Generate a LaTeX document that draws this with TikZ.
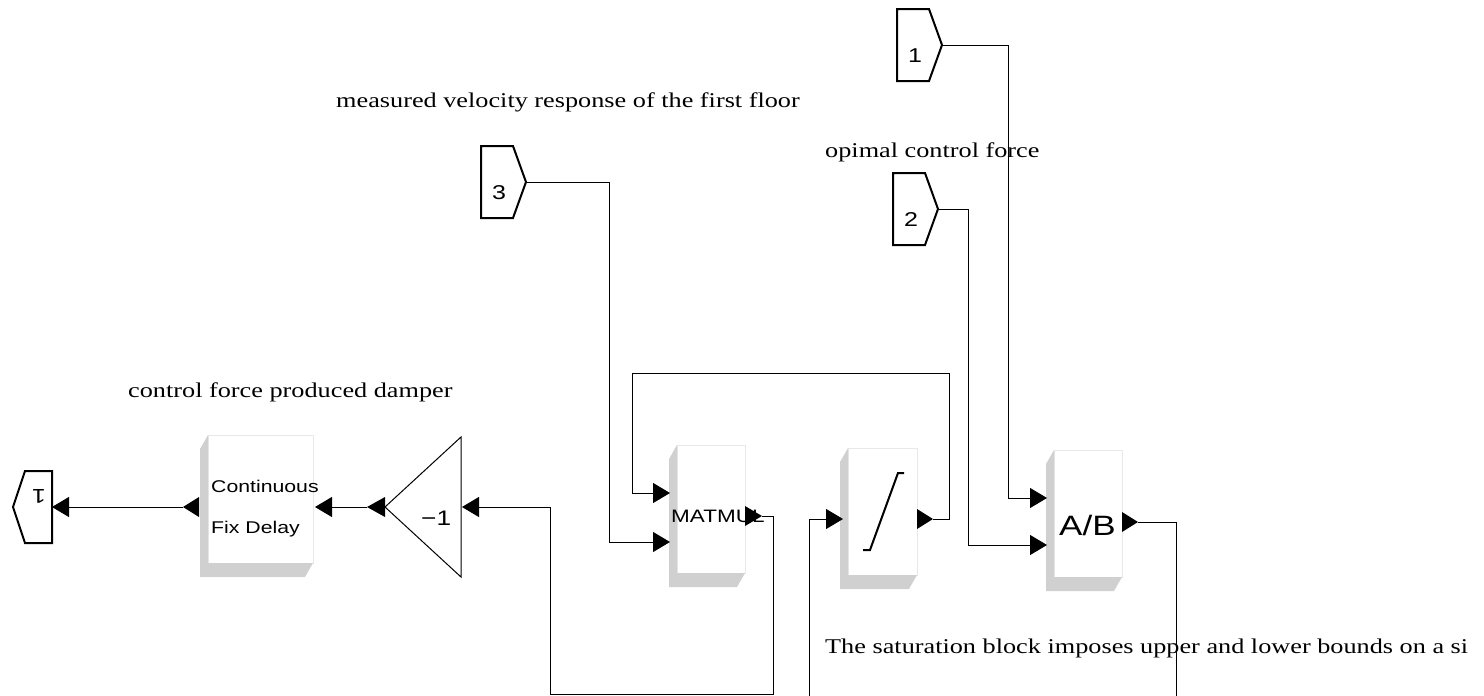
\documentclass[tikz,border=0pt]{standalone}
\usepackage{fontspec}
\setmainfont[FakeStretch=1.25]{Liberation Serif}
\setsansfont[FakeStretch=1.25]{Liberation Sans}
\usetikzlibrary{arrows.meta,calc}
\definecolor{shadowgray}{HTML}{D0D0D0}
\definecolor{rim}{HTML}{E8E8E8}
\tikzset{
  blk/.style={draw=rim,fill=white,line width=0.5pt,inner sep=0pt,outer sep=0pt},
  wire/.style={draw=black,line width=0.9pt,-{Triangle[length=17pt,width=20pt]}},
  portline/.style={draw=black,line width=2pt,line join=miter},
  note/.style={font=\fontsize{21}{25}\selectfont,anchor=base west,inner sep=0pt},
  blktxt/.style={font=\sffamily\fontsize{17}{20}\selectfont,anchor=base west,inner sep=0pt},
  portnum/.style={font=\sffamily\fontsize{20}{24}\selectfont,inner sep=0pt},
}
% gray extrusion left and below a block
\newcommand{\blkshadow}[1]{%
  \fill[shadowgray] (#1.north west) -- ++(-8,14) |- ($(#1.south east)+(-8,14)$) -- (#1.south east) -- (#1.south west) -- cycle;}
% output port: base x, tip x, y
\newcommand{\outtri}[4]{%
  \fill (#2,#4-10) -- (#3,#4) -- (#2,#4+10) -- cycle;
  \coordinate (#1) at (#3,#4);}
% inport: name, left x, mid y, number
\newcommand{\inport}[4]{%
  \draw[portline] (#2,#3-36) -- (#2+32,#3-36) -- (#2+45,#3) -- (#2+32,#3+36) -- (#2,#3+36) -- cycle;
  \node[portnum] (#1-num) at (#2+18,#3+11) {#4};
  \coordinate (#1) at (#2+45,#3);}

\begin{document}
\begin{tikzpicture}[x=1pt,y=-1pt]
  \useasboundingbox (0,0) rectangle (1484,696);
  \clip (0,0) rectangle (1484,696);

  % notes
  \node[note] (lbl-vel) at (336,107) {measured velocity response of the first floor};
  \node[note] (lbl-damp) at (128,397) {control force produced damper};
  \node[note] (lbl-opt) at (825,157) {opimal control force};
  \node[note] (lbl-sat) at (825,653) {The saturation block imposes upper and lower bounds on a si};

  % inports and outport
  \inport{in1}{897}{45}{1}
  \inport{in2}{893}{209}{2}
  \inport{in3}{481}{182}{3}
  \draw[portline] (52,471) -- (25,471) -- (13,507) -- (25,543) -- (52,543) -- cycle;
  \node[portnum,rotate=180] (outp-num) at (39,496) {1};
  \coordinate (outp) at (52,507);

  % blocks
  \node[blk,minimum width=105pt,minimum height=128pt] (delay) at (260.5,499) {};
  \blkshadow{delay}
  \node[blktxt] (delay-t1) at (211,492) {Continuous};
  \node[blktxt] (delay-t2) at (211,533) {Fix Delay};
  \coordinate (delay-in) at (315,507);
  \outtri{delay-out}{199}{183}{507}

  \draw[line width=1pt] (461,437) -- (385,507) -- (461,577) -- cycle;
  \node[blktxt,font=\sffamily\fontsize{21}{24}\selectfont] (gain) at (421,525) {−1};
  \coordinate (gain-in) at (462,507);
  \outtri{gain-out}{385}{367}{507}

  \node[blk,minimum width=68pt,minimum height=128pt] (mm) at (711,509) {};
  \blkshadow{mm}
  \node[blktxt,font=\sffamily\fontsize{18}{21}\selectfont] (mm-t) at (671,522) {MATMUL};
  \coordinate (mm-in1) at (670,493);
  \coordinate (mm-in2) at (670,542);
  \outtri{mm-out}{745}{762}{516}

  \node[blk,minimum width=69pt,minimum height=127pt] (sat) at (882.5,511.5) {};
  \blkshadow{sat}
  \draw[line width=2pt] (863,550) -- (870,550) -- (898,473) -- (904,473);
  \coordinate (sat-in) at (843,519);
  \outtri{sat-out}{917}{933}{519}

  \node[blk,minimum width=68pt,minimum height=127pt] (ab) at (1088,513.5) {};
  \blkshadow{ab}
  \node[blktxt,font=\sffamily\fontsize{28}{32}\selectfont] (ab-t) at (1059,535) {A/B};
  \coordinate (ab-in1) at (1047,498);
  \coordinate (ab-in2) at (1047,545);
  \outtri{ab-out}{1122}{1138}{522}

  % wires
  \draw[wire] (in1) -- ++(66,0) |- (ab-in1);
  \draw[wire] (in2) -- ++(30,0) |- (ab-in2);
  \draw[wire] (ab-out) -- ++(38,0) |- (809,730) |- (sat-in);
  \draw[wire] (sat-out) -- ++(16,0) -- ++(0,-146) -| ($(mm-in1)+(-38,0)$) -- (mm-in1);
  \draw[wire] (in3) -- ++(83,0) |- (mm-in2);
  \draw[wire] (mm-out) -- ++(11,0) -- ++(0,178) -| ($(gain-in)+(88,0)$) -- (gain-in);
  \draw[wire] (gain-out) -- (delay-in);
  \draw[wire] (delay-out) -- (outp);
\end{tikzpicture}
\end{document}
